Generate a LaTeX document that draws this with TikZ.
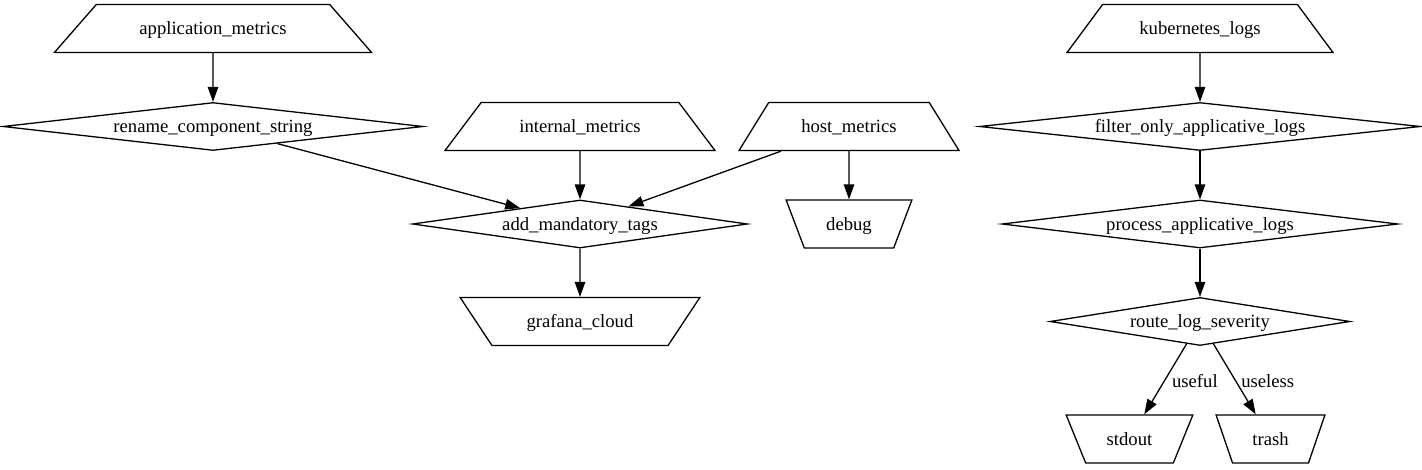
\documentclass[tikz,border=0pt]{standalone}
\usepackage{fontspec}
\setmainfont{Liberation Serif}
\usetikzlibrary{shapes.geometric,arrows.meta}
\begin{document}
\begin{tikzpicture}[x=1pt,y=-1pt,
  every node/.style={font=\fontsize{18.67}{22}\selectfont, line width=1.3pt, text height=14pt, text depth=1.6pt},
  src/.style={trapezium, draw, trapezium stretches=true, trapezium left angle=#1, trapezium right angle=#1, minimum height=48pt, inner sep=2pt},
  sink/.style={src=#1, shape border rotate=180},
  dia/.style={diamond, draw, aspect=8, minimum height=48pt, inner sep=0pt},
  conn/.style={draw, line width=1.3pt, -{Triangle[length=15pt,width=10.5pt]}},
  lab/.style={right, inner sep=6pt, yshift=-2pt}
]
\useasboundingbox (0,0) rectangle (1422,469);
\node[src=35.8, minimum width=318pt] (am) at (213,28.5) {application\_metrics};
\node[dia, minimum width=420pt] (rcs) at (213,126.5) {rename\_component\_string};
\node[src=40.6, minimum width=270pt] (im) at (580,126.5) {internal\_metrics};
\node[src=46.8, minimum width=220pt] (hm) at (849,126.5) {host\_metrics};
\node[dia, minimum width=335pt] (amt) at (580,224) {add\_mandatory\_tags};
\node[sink=62.8, minimum width=126pt] (dbg) at (849,224) {debug};
\node[sink=44.4, minimum width=240pt] (gc) at (580,321.5) {grafana\_cloud};
\node[src=40.6, minimum width=266pt] (kl) at (1200,28.5) {kubernetes\_logs};
\node[dia, minimum width=441pt] (fal) at (1200,126.5) {filter\_only\_applicative\_logs};
\node[dia, minimum width=396pt] (pal) at (1200,224) {process\_applicative\_logs};
\node[dia, minimum width=300pt] (rls) at (1200,321.5) {route\_log\_severity};
\node[sink=60.6, minimum width=127pt] (so) at (1129.5,439) {stdout};
\node[sink=66, minimum width=109pt] (tr) at (1270.5,439) {trash};
\draw[conn] (am) -- (rcs);
\draw[conn] (rcs) -- (amt);
\draw[conn] (im) -- (amt);
\draw[conn] (hm) -- (amt);
\draw[conn] (hm) -- (dbg);
\draw[conn] (amt) -- (gc);
\draw[conn] (kl) -- (fal);
\draw[conn] (fal) -- (pal);
\draw[conn] (pal) -- (rls);
\draw[conn] (rls) -- node[lab] {useful} (so);
\draw[conn] (rls) -- node[lab] {useless} (tr);
\end{tikzpicture}
\end{document}
